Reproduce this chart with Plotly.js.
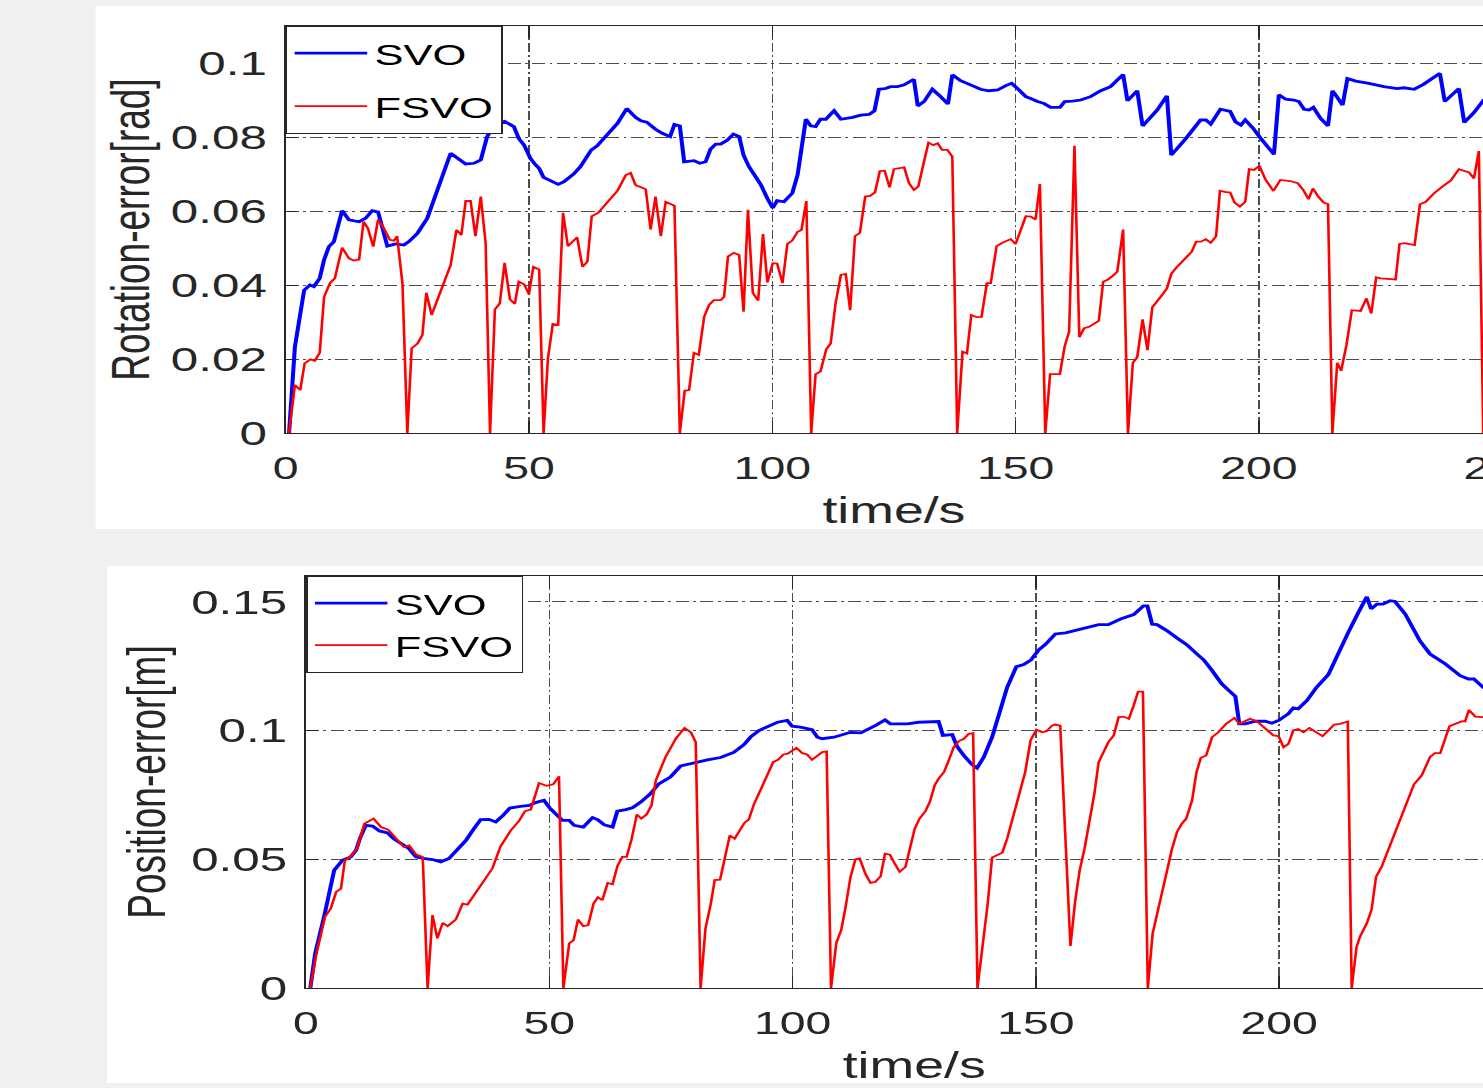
<!DOCTYPE html>
<html><head><meta charset="utf-8">
<script src="https://cdn.plot.ly/plotly-3.0.1.min.js"></script>
<style>
html,body{margin:0;padding:0;background:#f0f0f0;overflow:hidden;width:1483px;height:1088px;}
#stage{position:absolute;left:0;top:0;height:1088px;transform-origin:0 0;}
.panel{position:absolute;overflow:hidden;background:#ffffff;}
</style></head><body>
<div id="stage"><div class="panel" id="rotPanel"><div id="rot"></div></div><div class="panel" id="posPanel"><div id="pos"></div></div></div>
<script>
// ---------- data: rotation error [rad] ----------
const rotTimeSVO = [0.7,1.9,3.8,5.0,5.8,7.0,7.9,8.9,9.9,11.6,13.0,15.1,16.4,17.8,19.0,20.9,22.6,24.3,25.3,27.1,29.1,33.9,37.0,38.7,40.1,41.4,43.0,45.0,46.9,47.9,49.0,50.3,51.4,52.1,53.0,54.1,56.0,57.2,59.2,60.6,62.8,64.0,66.1,68.2,70.1,71.9,73.0,74.2,76.0,77.4,79.0,79.9,81.0,81.9,83.9,85.1,86.3,87.3,88.4,89.4,90.8,92.0,93.2,94.1,95.2,96.3,97.6,99.0,100.1,101.0,102.4,104.1,105.2,106.9,107.9,108.9,109.9,111.0,112.7,114.1,116.5,118.2,119.9,121.0,121.9,123.3,124.3,125.7,127.1,129.1,129.9,131.2,132.9,134.6,136.1,137.0,138.7,141.1,142.8,144.5,146.3,148.0,149.2,150.4,152.1,153.1,154.5,155.8,157.2,159.1,160.1,161.7,163.4,165.4,167.5,169.5,172.1,173.0,175.0,176.1,179.1,181.1,182.0,185.0,188.0,189.1,190.1,192.1,194.1,195.2,196.3,197.2,198.8,200.4,203.1,204.1,205.5,207.2,208.2,209.3,210.3,211.2,212.7,214.2,215.1,216.0,217.2,218.2,219.9,222.6,225.7,228.4,229.8,231.9,233.9,237.2,238.2,241.1,242.2,244.2,246.2,248.0];
const rotSVO = [0,0.0233,0.0386,0.040,0.0396,0.0418,0.0468,0.0504,0.0517,0.0601,0.0576,0.0571,0.058,0.0601,0.0597,0.0505,0.0511,0.0508,0.0517,0.054,0.058,0.0756,0.0727,0.0729,0.0738,0.0801,0.0835,0.0842,0.0828,0.0796,0.0778,0.0742,0.0724,0.0715,0.0691,0.0684,0.0672,0.0679,0.070,0.072,0.0765,0.0776,0.0805,0.0837,0.0877,0.0853,0.0844,0.084,0.0821,0.081,0.0801,0.0834,0.083,0.0733,0.0736,0.0729,0.0733,0.0767,0.0781,0.0781,0.0792,0.0808,0.0801,0.0751,0.072,0.0697,0.0672,0.0634,0.0608,0.0628,0.0625,0.0648,0.0697,0.0848,0.083,0.0828,0.0848,0.0848,0.0871,0.0848,0.0853,0.0859,0.0861,0.0871,0.0929,0.0931,0.0936,0.0936,0.0941,0.0956,0.0884,0.0896,0.0929,0.0909,0.0889,0.0968,0.0952,0.0939,0.0929,0.0925,0.0927,0.0939,0.0945,0.0931,0.0909,0.0904,0.0896,0.0891,0.088,0.088,0.0896,0.0897,0.090,0.0909,0.0925,0.0936,0.0969,0.0898,0.0925,0.083,0.0873,0.0911,0.0751,0.0796,0.0846,0.0846,0.0835,0.0875,0.0869,0.0841,0.0832,0.0846,0.0824,0.0796,0.0753,0.0914,0.0902,0.090,0.0896,0.0875,0.0873,0.088,0.085,0.083,0.0925,0.0909,0.0886,0.0958,0.0951,0.0945,0.0936,0.0931,0.0933,0.0929,0.0943,0.0972,0.0896,0.0931,0.0839,0.0866,0.090,0.092];
const rotTimeFSVO = [0.7,1.9,3.0,3.9,5.1,6.0,7.0,7.9,9.1,10.1,11.6,13.0,14.0,15.1,16.0,16.9,18.0,19.0,20.2,21.4,22.3,22.9,24.0,25.0,25.9,27.1,28.1,28.9,30.0,32.2,33.9,35.1,36.1,37.0,38.0,39.0,40.1,41.1,42.0,43.0,44.0,45.0,46.1,47.1,47.9,49.0,50.0,50.9,52.1,53.0,53.9,54.9,56.0,57.0,58.0,59.9,61.0,62.0,62.9,64.2,66.1,68.2,69.9,70.9,71.9,74.0,75.0,76.0,77.1,78.1,79.9,81.0,82.0,82.9,83.9,84.9,86.0,87.0,88.0,89.4,90.1,90.9,92.1,93.2,94.1,95.0,96.0,97.1,98.1,99.0,100.1,101.0,102.1,103.1,104.1,105.2,106.0,107.0,108.0,108.9,109.9,111.1,112.0,113.0,114.1,115.1,116.0,117.0,118.0,119.1,120.1,121.1,122.1,123.1,124.1,125.0,127.1,128.1,129.1,130.0,131.1,132.1,133.1,134.0,134.9,136.0,137.0,138.0,139.1,140.0,140.9,142.0,143.0,144.1,144.9,146.1,147.3,149.0,150.0,152.1,153.1,154.1,155.0,156.1,157.1,159.1,160.1,161.0,162.1,163.1,164.1,165.1,166.1,167.1,168.0,169.0,169.9,170.9,172.1,173.1,174.1,175.0,176.1,177.1,178.1,179.1,180.1,181.1,182.0,183.1,184.3,185.3,186.2,187.1,188.1,189.1,190.1,191.2,192.0,193.0,194.1,195.0,196.1,197.2,198.0,199.0,200.1,201.4,203.0,204.4,206.4,208.0,209.1,210.2,211.1,212.2,213.3,214.2,215.1,216.1,216.9,218.0,219.1,220.9,222.1,223.1,224.1,225.0,228.1,228.9,230.0,232.0,233.1,234.3,236.0,237.7,239.4,241.1,243.2,244.2,245.2,246.1,247.2];
const rotFSVO = [0,0.013,0.0116,0.0188,0.0199,0.0195,0.0217,0.0368,0.0405,0.0418,0.0501,0.0472,0.0466,0.0469,0.0571,0.0553,0.0504,0.0577,0.0553,0.0522,0.052,0.0532,0.0405,0,0.0229,0.0242,0.0265,0.0379,0.0319,0.0396,0.0454,0.0549,0.0535,0.0627,0.0627,0.0532,0.0639,0.0513,0,0.0334,0.035,0.046,0.0361,0.0349,0.0409,0.0402,0.0375,0.0449,0.0442,0,0.0202,0.0295,0.0292,0.0595,0.0505,0.0529,0.0449,0.0463,0.0586,0.0595,0.0625,0.0655,0.0697,0.0703,0.067,0.0659,0.055,0.0639,0.0532,0.0625,0.0614,0,0.0114,0.0116,0.0217,0.0211,0.0314,0.0346,0.0359,0.0359,0.0368,0.0477,0.0487,0.0481,0.0328,0.0603,0.0379,0.0358,0.0538,0.0407,0.0459,0.0458,0.0405,0.0511,0.052,0.0544,0.0549,0.0627,0,0.0159,0.0166,0.0226,0.0242,0.035,0.0427,0.043,0.0332,0.0532,0.0541,0.0639,0.0641,0.065,0.0708,0.0709,0.0664,0.0713,0.0718,0.0675,0.0657,0.0666,0.0729,0.0785,0.0778,0.0783,0.0765,0.0765,0.0747,0,0.022,0.0215,0.0319,0.0313,0.0314,0.0405,0.0405,0.0505,0.0514,0.0524,0.0511,0.0586,0.0585,0.0577,0.0673,0,0.0159,0.0159,0.0235,0.0274,0.0776,0.0259,0.0283,0.0287,0.0295,0.0303,0.0409,0.0415,0.0424,0.0436,0.055,0,0.019,0.0205,0.0307,0.0224,0.034,0.0355,0.0373,0.0391,0.043,0.0448,0.0463,0.0476,0.049,0.0517,0.0517,0.0524,0.0514,0.0532,0.0655,0.0652,0.065,0.0623,0.0612,0.0625,0.0713,0.0711,0.0722,0.0684,0.0654,0.0684,0.0681,0.0675,0.0657,0.0632,0.0661,0.0639,0.0623,0.0619,0,0.019,0.0168,0.0238,0.0332,0.033,0.0364,0.0323,0.0421,0.0418,0.0415,0.0511,0.0513,0.0508,0.0618,0.0625,0.0648,0.0666,0.0682,0.0713,0.0704,0.0688,0.0762,0,0.014];

// ---------- data: position error [m] ----------
const posTimeSVO = [0.9,1.9,3.8,5.8,7.5,9.2,10.3,11.2,12.3,13.7,15.1,16.8,18.0,19.5,21.2,22.6,24.0,26.0,27.7,29.4,31.1,32.9,34.6,35.9,37.6,39.0,40.4,41.9,44.1,45.9,47.2,48.9,50.1,51.5,52.7,54.1,55.1,57.0,58.9,59.9,61.3,63.0,64.0,65.7,67.1,68.8,70.8,72.5,74.9,77.0,79.1,80.4,82.5,85.2,87.9,90.0,91.4,93.1,94.8,96.9,98.9,99.9,101.6,104.0,105.1,106.1,108.5,110.2,111.9,114.0,115.3,117.0,119.0,120.1,123.6,125.9,130.0,130.9,132.8,133.8,135.2,136.9,137.9,139.3,141.0,142.7,144.1,146.0,147.5,149.0,150.6,151.9,154.0,156.1,159.1,162.9,164.9,167.4,170.1,172.1,172.9,173.9,174.9,176.9,179.0,181.0,183.1,184.5,186.2,188.2,191.0,191.8,193.0,195.1,197.1,198.5,199.9,201.9,202.9,203.9,205.7,207.7,210.1,212.5,214.2,216.3,218.0,218.9,220.1,221.3,222.8,223.8,225.9,228.9,231.0,234.1,237.2,238.9,240.0,241.9,245.0];
const posSVO = [0,0.0134,0.0283,0.0457,0.0496,0.0509,0.0535,0.0586,0.0632,0.0629,0.061,0.0602,0.058,0.0561,0.0541,0.0509,0.0503,0.0499,0.049,0.0503,0.0535,0.0574,0.0621,0.0654,0.0655,0.0645,0.0668,0.0699,0.0705,0.0709,0.072,0.0729,0.0699,0.0671,0.0651,0.0651,0.0632,0.0625,0.0662,0.0654,0.0634,0.0625,0.0687,0.0693,0.070,0.0722,0.0755,0.0793,0.0819,0.0862,0.0872,0.0878,0.0886,0.0895,0.0915,0.0945,0.0975,0.100,0.1013,0.1032,0.1039,0.1017,0.1013,0.1003,0.0974,0.0968,0.0974,0.0983,0.0993,0.0991,0.1003,0.1019,0.1041,0.1026,0.1026,0.1032,0.1035,0.0981,0.0984,0.0938,0.0903,0.0867,0.0854,0.0897,0.0974,0.1078,0.1168,0.1248,0.1256,0.1274,0.1313,0.1333,0.1375,0.1379,0.1394,0.1411,0.1411,0.1433,0.145,0.1484,0.1484,0.1413,0.1411,0.1388,0.1359,0.1333,0.1297,0.1274,0.1233,0.1181,0.1132,0.1026,0.1026,0.1036,0.1036,0.1028,0.1039,0.1065,0.1088,0.1084,0.1116,0.1168,0.1217,0.1317,0.1381,0.1459,0.1519,0.1472,0.1491,0.1491,0.1504,0.1501,0.1452,0.1349,0.1297,0.1259,0.1213,0.120,0.120,0.1168,0.113];
const posTimeFSVO = [0.9,2.1,3.9,5.1,6.2,7.2,8.0,9.2,10.5,12.0,13.9,15.4,16.9,18.5,20.1,21.2,22.6,24.0,25.0,26.0,27.0,28.1,29.1,30.8,32.2,33.2,35.9,38.3,40.0,42.1,43.8,45.0,46.2,47.9,49.4,50.8,52.0,52.9,54.1,55.0,55.9,57.0,58.0,59.1,60.0,60.9,62.0,63.0,64.0,65.0,65.9,66.9,68.0,68.9,70.0,71.0,71.9,73.9,76.0,77.8,79.1,80.1,81.1,82.1,83.2,84.0,85.1,86.0,87.1,88.1,89.2,90.1,91.0,92.1,94.0,95.1,96.0,97.0,98.1,99.0,100.8,102.0,103.0,104.0,105.1,106.1,107.0,107.9,109.0,110.0,110.9,111.9,112.9,113.8,115.0,116.0,117.0,118.1,119.0,120.0,121.0,122.0,123.2,124.1,125.1,126.1,127.3,128.2,129.2,130.0,131.1,132.1,133.1,134.2,135.2,136.2,137.1,138.0,139.2,140.1,141.0,142.0,143.1,144.1,145.4,146.8,147.8,148.9,150.1,151.3,152.2,153.3,154.0,155.0,157.1,158.1,159.0,160.0,161.0,162.0,162.9,163.9,164.9,166.0,167.0,168.0,169.1,170.1,171.0,172.0,173.0,174.0,175.0,175.9,176.9,177.9,179.0,180.0,180.9,182.1,183.0,183.9,185.0,186.2,187.5,189.1,190.8,191.8,194.0,195.4,197.5,198.8,199.9,200.9,201.9,202.9,203.9,205.0,206.2,207.7,208.9,210.1,211.3,212.5,214.1,214.9,215.9,216.6,218.0,219.0,219.9,221.1,222.9,224.1,225.9,227.7,229.3,231.0,232.0,233.1,235.0,236.2,237.6,238.2,239.0,240.3,241.9,244.0];
const posFSVO = [0,0.0128,0.0276,0.0309,0.0373,0.0386,0.0496,0.0512,0.0541,0.0638,0.0658,0.0625,0.0615,0.058,0.0548,0.0554,0.0519,0.0509,0,0.0283,0.0193,0.0253,0.024,0.0266,0.0328,0.0324,0.0395,0.0464,0.055,0.0612,0.0649,0.0687,0.0693,0.0796,0.0785,0.0791,0.0822,0,0.0173,0.0186,0.0266,0.024,0.0244,0.0328,0.0352,0.0341,0.0408,0.0403,0.0473,0.0509,0.0509,0.0576,0.0674,0.0658,0.0674,0.0709,0.0806,0.0897,0.0968,0.101,0.0993,0.0955,0,0.0231,0.0328,0.0419,0.0421,0.0507,0.0593,0.058,0.0612,0.0641,0.0654,0.0716,0.0793,0.0838,0.0877,0.0886,0.0907,0.091,0.0933,0.0912,0.0907,0.0886,0.0903,0.0916,0.0919,0,0.0176,0.0225,0.0315,0.0431,0.0499,0.0503,0.0442,0.0408,0.0412,0.0434,0.0522,0.0518,0.0483,0.0451,0.047,0.0541,0.0619,0.0658,0.0687,0.0722,0.0787,0.0813,0.0838,0.0884,0.0935,0.0959,0.0968,0.0987,0.099,0,0.0173,0.0328,0.0507,0.0516,0.0525,0.058,0.0671,0.078,0.0838,0.0961,0.1003,0.0993,0.0997,0.1019,0.1023,0.1019,0.0163,0.0341,0.0457,0.0541,0.0645,0.0752,0.0877,0.0916,0.0955,0.0981,0.1052,0.1054,0.1045,0.1097,0.1151,0.1151,0,0.0212,0.029,0.0367,0.0451,0.0535,0.0606,0.0638,0.0658,0.0729,0.0838,0.0894,0.0903,0.0974,0.0993,0.1026,0.1049,0.1026,0.1045,0.1036,0.1003,0.0981,0.0978,0.0935,0.0948,0.100,0.1006,0.0993,0.101,0.0993,0.0978,0.100,0.1023,0.1026,0.1035,0,0.016,0.0199,0.0251,0.0305,0.0431,0.0473,0.0561,0.0619,0.0703,0.0791,0.0826,0.0897,0.0912,0.0912,0.1017,0.1026,0.1036,0.1035,0.108,0.1054,0.1052,0.106];

const seriesNames = ['SVO','FSVO'];
const xTickVals = [0,50,100,150,200,250];

// ---------- layout (screen px; stage is stretched horizontally like the source figure) ----------
const S = 1.45;           // horizontal stretch of the source image
const FULLW = 1560;       // drawn wider than the window; right part is cropped like the source
const EXTRA = 24;         // plot drawn a bit taller than its white panel; the panel clips it
const FONT = 'Liberation Sans, Arial, Helvetica, sans-serif';
const INK = '#262626';
const GRID = '#4d4d4d';
const DASH = '9px,3px,2px,3px';

const stage = document.getElementById('stage');
stage.style.width = (FULLW / S) + 'px';
stage.style.transform = 'scaleX(' + S + ')';

function axisX(title, standoff) {
  return {
    range: [0, 250], tickvals: xTickVals, ticks: 'inside', ticklen: 12, tickcolor: INK,
    showline: true, linecolor: INK, linewidth: 1.2, mirror: 'ticks',
    showgrid: true, gridcolor: GRID, griddash: DASH, gridwidth: 1, zeroline: false,
    tickfont: {family: FONT, size: 32, color: INK}, ticklabelstandoff: 6,
    title: {text: title, font: {family: FONT, size: 37, color: INK}, standoff: standoff},
    fixedrange: true
  };
}
function axisY(range, dtick, title, standoff) {
  return {
    range: range, dtick: dtick, tick0: 0, ticks: 'inside', ticklen: 8, tickcolor: INK,
    showline: true, linecolor: INK, linewidth: 1.2, mirror: 'ticks',
    showgrid: true, gridcolor: GRID, griddash: DASH, gridwidth: 1, zeroline: false,
    tickfont: {family: FONT, size: 34, color: INK}, ticklabelstandoff: 5,
    title: {text: title, font: {family: FONT, size: 37, color: INK}, standoff: standoff},
    fixedrange: true
  };
}
function traces(tS, yS, tF, yF) {
  return [
    {x: tS, y: yS, name: seriesNames[0], type: 'scatter', mode: 'lines', legendgroup: 'a',
     line: {color: '#0000ff', width: 2.8}},
    {x: tF, y: yF, name: seriesNames[1], type: 'scatter', mode: 'lines', legendgroup: 'b',
     line: {color: '#ff0000', width: 1.8}}
  ];
}
function legend(gap) {
  return {x: 0, y: 1, xanchor: 'left', yanchor: 'top', bgcolor: '#ffffff',
          bordercolor: INK, borderwidth: 1.2, font: {family: FONT, size: 30, color: '#000'},
          tracegroupgap: gap, itemwidth: 50};
}

function place(id, panel, plot, data, xa, ya, leg) {
  const box = document.getElementById(id + 'Panel');
  const el = document.getElementById(id);
  const left = panel.x0 / S, width = (FULLW - panel.x0) / S;
  box.style.left = left + 'px';
  box.style.top = panel.y0 + 'px';
  box.style.width = width + 'px';
  box.style.height = (panel.y1 - panel.y0) + 'px';
  const layout = {
    width: width, height: panel.y1 - panel.y0 + EXTRA,
    margin: {l: (plot.x0 - panel.x0) / S, r: (FULLW - plot.x1) / S,
             t: plot.y0 - panel.y0, b: panel.y1 - plot.y1 + EXTRA, pad: 0},
    paper_bgcolor: '#ffffff', plot_bgcolor: '#ffffff',
    font: {family: FONT, color: INK},
    xaxis: xa, yaxis: ya, legend: leg, showlegend: true
  };
  Plotly.newPlot(el, data, layout, {staticPlot: true, displayModeBar: false});
}

place('rot', {x0: 95, y0: 6, y1: 529}, {x0: 285, x1: 1501.6, y0: 26, y1: 433},
      traces(rotTimeSVO, rotSVO, rotTimeFSVO, rotFSVO),
      axisX('time/s', 12), axisY([0, 0.11], 0.02, 'Rotation-error[rad]', 3), legend(11));
place('pos', {x0: 107, y0: 566, y1: 1083}, {x0: 305, x1: 1522.5, y0: 576, y1: 988},
      traces(posTimeSVO, posSVO, posTimeFSVO, posFSVO),
      axisX('time/s', 12), axisY([0, 0.16], 0.05, 'Position-error[m]', 5.6), legend(0));
</script>
</body></html>
